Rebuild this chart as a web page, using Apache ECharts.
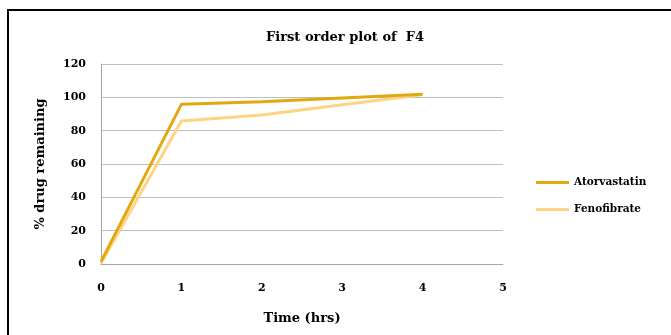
<!DOCTYPE html>
<html>
<head>
<meta charset="utf-8">
<script src="https://cdn.jsdelivr.net/npm/echarts@6/dist/echarts.min.js"></script>
<style>
  html, body { margin: 0; padding: 0; background: #fff; }
  #chart { width: 671px; height: 335px; }
</style>
</head>
<body>
<div id="chart"></div>
<script>
// Sampling times (hrs) and % drug remaining for each drug
const times = [0, 1, 2, 3, 4];
const atorvastatin = [1.4, 95.8, 97.4, 99.6, 101.8];
const fenofibrate = [0.5, 85.8, 89.4, 95.6, 101.5];
const seriesNames = ['Atorvastatin', 'Fenofibrate'];
const seriesColors = ['#E2A90F', '#FFD384'];

const font = 'DejaVu Serif, Liberation Serif, serif';
const pairs = (ys) => times.map((t, i) => [t, ys[i]]);

const chart = echarts.init(document.getElementById('chart'), null, { renderer: 'canvas' });
chart.setOption({
  animation: false,
  backgroundColor: '#ffffff',
  title: {
    text: 'First order plot of  F4',
    left: 340, top: 26, textAlign: 'center',
    textStyle: { fontFamily: font, fontWeight: 'bold', fontSize: 13, color: '#000' }
  },
  legend: {
    orient: 'vertical',
    left: 531, top: 172,
    itemWidth: 33, itemHeight: 3, itemGap: 16,
    icon: 'rect',
    textStyle: { fontFamily: font, fontWeight: 'bold', fontSize: 10.5, color: '#000' },
    data: seriesNames
  },
  grid: { left: 101, right: 168, top: 64, bottom: 71, containLabel: false },
  xAxis: {
    type: 'value', min: 0, max: 5, interval: 1,
    name: 'Time (hrs)', nameLocation: 'middle', nameGap: 48,
    nameTextStyle: { fontFamily: font, fontWeight: 'bold', fontSize: 13, color: '#000' },
    axisLine: { lineStyle: { color: '#A6A6A6', width: 1 } },
    axisTick: { show: false },
    splitLine: { show: false },
    axisLabel: { margin: 19, fontFamily: font, fontWeight: 'bold', fontSize: 11, color: '#000' }
  },
  yAxis: {
    type: 'value', min: 0, max: 120, interval: 20,
    name: '% drug remaining', nameLocation: 'middle', nameGap: 54, nameRotate: 90,
    nameTextStyle: { fontFamily: font, fontWeight: 'bold', fontSize: 13, color: '#000' },
    axisLine: { show: true, lineStyle: { color: '#A6A6A6', width: 1 } },
    axisTick: { show: false },
    splitLine: { lineStyle: { color: '#BFBFBF', width: 1 } },
    axisLabel: { margin: 15, fontFamily: font, fontWeight: 'bold', fontSize: 11, color: '#000' }
  },
  series: [
    {
      name: seriesNames[0], type: 'line', data: pairs(atorvastatin),
      showSymbol: false, symbol: 'none', z: 3,
      color: seriesColors[0], lineStyle: { width: 3, color: seriesColors[0] }
    },
    {
      name: seriesNames[1], type: 'line', data: pairs(fenofibrate),
      showSymbol: false, symbol: 'none', z: 2,
      color: seriesColors[1], lineStyle: { width: 3, color: seriesColors[1] }
    }
  ],
  graphic: [
    // frame around the chart: top and left edges
    { type: 'line', shape: { x1: 7, y1: 10, x2: 671, y2: 10 }, style: { stroke: '#000', lineWidth: 2 } },
    { type: 'line', shape: { x1: 8, y1: 9, x2: 8, y2: 335 }, style: { stroke: '#000', lineWidth: 2 } }
  ]
});
</script>
</body>
</html>
